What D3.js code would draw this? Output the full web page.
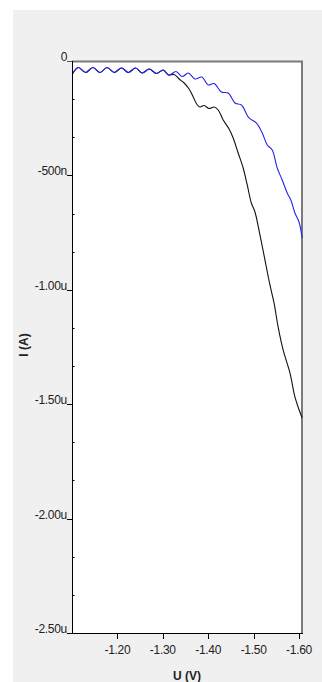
<!DOCTYPE html>
<html>
<head>
<meta charset="utf-8">
<script src="https://cdn.jsdelivr.net/npm/d3@7"></script>
<style>
  body { margin: 0; background: #fff; }
  text { font-family: Arial, "Liberation Sans", sans-serif; }
</style>
</head>
<body>
<div id="chart"></div>
<script>
// potential (V) and current (nA), shared noisy start
const startV = [-1.101, -1.114, -1.130, -1.146, -1.162, -1.177, -1.193, -1.209, -1.224, -1.240, -1.255, -1.270, -1.286, -1.301]
const startI = [-56.8, -28.4, -50.3, -28.4, -50.3, -28.4, -50.3, -30.6, -50.3, -30.6, -52.4, -35.0, -54.6, -39.3]

const blueV = [-1.314, -1.329, -1.343, -1.356, -1.371, -1.386, -1.400, -1.413, -1.429, -1.444, -1.459, -1.473, -1.490, -1.506, -1.519, -1.530, -1.541, -1.552, -1.563, -1.574, -1.582, -1.591, -1.600, -1.607]
const blueI = [-61.2, -45.9, -67.7, -52.4, -78.7, -69.9, -104.9, -98.3, -135.5, -139.8, -183.5, -192.3, -249.1, -270.9, -314.6, -367.1, -388.9, -467.6, -520.0, -576.8, -607.4, -664.2, -703.6, -773.5]

const blackV = [-1.312, -1.325, -1.336, -1.347, -1.358, -1.367, -1.376, -1.382, -1.391, -1.402, -1.413, -1.422, -1.433, -1.446, -1.455, -1.466, -1.477, -1.486, -1.495, -1.503, -1.514, -1.525, -1.536, -1.545, -1.554, -1.565, -1.580, -1.591, -1.598, -1.607]
const blackI = [-61.2, -59.0, -78.7, -96.1, -122.4, -157.3, -192.3, -201.0, -194.5, -207.6, -201.0, -214.1, -257.8, -297.2, -336.5, -402.0, -467.6, -541.9, -620.6, -659.9, -760.4, -869.6, -978.9, -1057.5, -1162.4, -1262.9, -1363.4, -1468.3, -1512.0, -1560.1]

const xTicks = [-1.20, -1.30, -1.40, -1.50, -1.60]
const yTicks = [0, -500, -1000, -1500, -2000, -2500]
const yTickLabels = ['0', '-500n', '-1.00u', '-1.50u', '-2.00u', '-2.50u']

const W = 322, H = 682
const pLeft = 72, pRight = 302, pTop = 61, pBottom = 633

const svg = d3.select('#chart').append('svg')
    .attr('width', W)
    .attr('height', H)

svg.append('rect')
    .attr('x', 13).attr('y', 10)
    .attr('width', W - 13).attr('height', H - 10)
    .attr('fill', '#f0f0f0')

svg.append('rect')
    .attr('x', pLeft).attr('y', pTop)
    .attr('width', pRight - pLeft).attr('height', pBottom - pTop)
    .attr('fill', '#fff')

const x = d3.scaleLinear().domain([-1.10, -1.6066]).range([pLeft, pRight])
const y = d3.scaleLinear().domain([0, -2500]).range([pTop, pBottom])

// top / right frame
svg.append('path')
    .attr('d', `M${pLeft},${pTop + 0.5}H${pRight}V${pBottom}`)
    .attr('fill', 'none')
    .attr('stroke', '#7a7a7a')
    .attr('stroke-width', 2)

// minor y ticks inside
const minor = d3.range(0, 16).map(i => -i * 500 / 3).filter((v, i) => i % 3 !== 0)
svg.append('g')
    .selectAll('line')
    .data(minor)
    .join('line')
    .attr('x1', pLeft).attr('x2', pLeft + 2.5)
    .attr('y1', d => Math.round(y(d)) + 0.5).attr('y2', d => Math.round(y(d)) + 0.5)
    .attr('stroke', '#000')

const line = d3.line()
    .x(d => x(d[0]))
    .y(d => y(d[1]))
    .curve(d3.curveCatmullRom)

const startPts = startV.map((v, i) => [v, startI[i]])
const bluePts = startPts.concat(blueV.map((v, i) => [v, blueI[i]]))
const blackPts = startPts.concat(blackV.map((v, i) => [v, blackI[i]]))

svg.append('path')
    .attr('d', line(blackPts))
    .attr('fill', 'none')
    .attr('stroke', '#111')
    .attr('stroke-width', 1.1)

svg.append('path')
    .attr('d', line(bluePts))
    .attr('fill', 'none')
    .attr('stroke', '#2323f0')
    .attr('stroke-width', 1.1)

// axis lines
svg.append('line')
    .attr('x1', pLeft + 0.5).attr('x2', pLeft + 0.5)
    .attr('y1', pTop).attr('y2', pBottom + 0.5)
    .attr('stroke', '#000')
svg.append('line')
    .attr('x1', pLeft).attr('x2', pRight + 1)
    .attr('y1', pBottom + 0.5).attr('y2', pBottom + 0.5)
    .attr('stroke', '#000')

// y ticks: label with underline tick
const yg = svg.append('g')
yg.selectAll('line')
    .data(yTicks)
    .join('line')
    .attr('x1', pLeft - 5).attr('x2', pLeft)
    .attr('y1', d => Math.round(y(d)) + 0.5).attr('y2', d => Math.round(y(d)) + 0.5)
    .attr('stroke', (d, i) => i === 0 ? '#555' : '#000')
yg.selectAll('text')
    .data(yTicks)
    .join('text')
    .attr('x', pLeft - 5)
    .attr('y', d => Math.round(y(d)) - 0.5)
    .attr('text-anchor', 'end')
    .attr('font-size', 12)
    .attr('letter-spacing', -0.3)
    .attr('fill', '#222')
    .text((d, i) => yTickLabels[i])

// x ticks
const xg = svg.append('g')
xg.selectAll('line')
    .data(xTicks)
    .join('line')
    .attr('x1', d => Math.round(x(d)) + 0.5).attr('x2', d => Math.round(x(d)) + 0.5)
    .attr('y1', pBottom).attr('y2', pBottom + 6)
    .attr('stroke', '#000')
xg.selectAll('text')
    .data(xTicks)
    .join('text')
    .attr('x', d => x(d))
    .attr('y', pBottom + 21)
    .attr('text-anchor', 'middle')
    .attr('font-size', 12)
    .attr('letter-spacing', -0.3)
    .attr('fill', '#222')
    .text(d => d.toFixed(2))

svg.append('text')
    .attr('x', (pLeft + pRight) / 2)
    .attr('y', 680)
    .attr('text-anchor', 'middle')
    .attr('font-size', 12)
    .attr('font-weight', 'bold')
    .attr('fill', '#222')
    .text('U (V)')

svg.append('text')
    .attr('transform', 'translate(28,345) rotate(-90)')
    .attr('text-anchor', 'middle')
    .attr('font-size', 12)
    .attr('font-weight', 'bold')
    .attr('fill', '#222')
    .text('I (A)')
</script>
</body>
</html>
